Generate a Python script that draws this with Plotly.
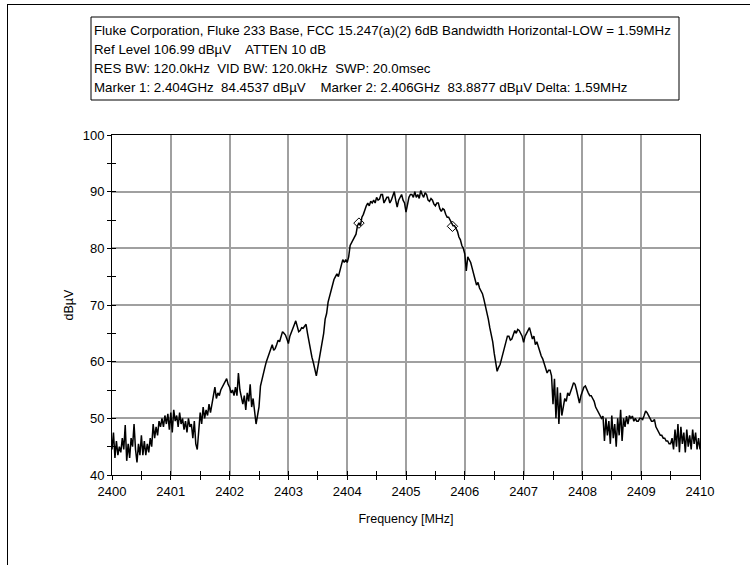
import numpy as np
import plotly.graph_objects as go

# Sweep: 2400-2410 MHz, 0.025 MHz step (401 points)
freq_start = 2400.0
freq_step = 0.025

level_dbuv = [
    # 2400.0 - 2400.475
    44.5, 47.5, 43.0, 46.0, 43.5, 45.0, 44.0, 46.5, 44.5, 48.8, 42.5, 45.5, 43.0, 46.5, 45.0, 49.0, 44.5, 42.2, 45.5, 43.5,
    # 2400.5 - 2400.975
    47.0, 43.5, 46.0, 43.5, 45.5, 44.0, 46.5, 45.0, 49.0, 46.5, 48.5, 47.0, 49.5, 48.5, 50.0, 48.5, 50.5, 49.0, 50.8, 48.0,
    # 2401.0 - 2401.475
    51.0, 47.5, 51.5, 49.5, 50.5, 48.5, 51.0, 49.0, 50.0, 48.0, 49.5, 47.5, 50.0, 48.5, 49.0, 46.5, 49.5, 45.5, 44.5, 48.0,
    # 2401.5 - 2401.975
    51.0, 49.0, 52.0, 50.0, 51.5, 50.5, 52.5, 51.0, 53.0, 54.0, 55.5, 53.5, 54.5, 54.0, 55.0, 55.5, 56.0, 56.5, 57.0, 56.0,
    # 2402.0 - 2402.475
    55.5, 54.5, 55.0, 54.0, 55.5, 54.0, 58.0, 55.0, 53.5, 52.5, 54.0, 51.5, 54.5, 53.0, 56.0, 52.0, 53.5, 51.0, 49.0, 50.5,
    # 2402.5 - 2402.975
    52.0, 55.7, 57.0, 58.0, 59.0, 60.0, 60.8, 61.5, 62.5, 63.0, 62.0, 62.3, 63.0, 63.8, 63.5, 64.5, 65.3, 65.0, 64.7, 64.0,
    # 2403.0 - 2403.475
    63.2, 64.5, 65.3, 66.0, 66.5, 67.2, 66.0, 65.3, 65.5, 66.0, 65.9, 66.3, 66.6, 65.0, 63.5, 62.0, 60.8, 59.8, 58.7, 57.5,
    # 2403.5 - 2403.975
    59.0, 60.5, 62.5, 63.5, 65.0, 67.5, 68.5, 70.5, 71.5, 73.0, 74.0, 74.5, 75.0, 75.5, 75.0, 76.0, 77.0, 78.0, 77.5, 78.0,
    # 2404.0 - 2404.475
    77.5, 78.5, 80.5, 81.0, 81.5, 82.0, 82.5, 84.0, 84.5, 84.0, 85.5, 86.0, 87.0, 87.5, 88.0, 87.5, 88.3, 88.0, 88.5, 88.0,
    # 2404.5 - 2404.975
    89.0, 88.5, 88.7, 89.5, 89.5, 88.0, 88.5, 89.0, 89.0, 88.0, 88.5, 89.5, 90.0, 88.5, 87.3, 88.5, 89.0, 89.5, 88.5, 88.0,
    # 2405.0 - 2405.475
    86.4, 88.0, 89.0, 89.5, 89.5, 89.0, 90.0, 89.0, 89.5, 88.8, 90.2, 89.5, 89.0, 89.8, 89.5, 88.5, 88.3, 88.8, 88.5, 87.8,
    # 2405.5 - 2405.975
    87.5, 88.0, 88.0, 87.0, 86.5, 87.0, 86.8, 86.0, 85.5, 85.5, 85.0, 84.5, 84.0, 84.0, 83.5, 83.0, 82.0, 81.5, 80.5, 80.0,
    # 2406.0 - 2406.475
    79.0, 76.0, 78.5, 78.0, 77.5, 76.5, 75.7, 74.5, 73.5, 74.0, 73.0, 72.5, 72.0, 71.0, 70.0, 68.5, 67.5, 66.0, 65.0, 63.5,
    # 2406.5 - 2406.975
    61.5, 60.0, 58.3, 59.0, 59.5, 60.5, 61.5, 63.0, 64.0, 64.5, 64.5, 63.8, 64.0, 65.0, 65.5, 65.0, 65.7, 65.5, 65.0, 64.5,
    # 2407.0 - 2407.475
    63.4, 64.5, 65.0, 65.5, 66.0, 65.0, 64.0, 64.5, 63.0, 63.5, 62.5, 62.0, 61.0, 60.5, 59.5, 59.0, 58.0, 58.5, 58.5, 57.5,
    # 2407.5 - 2407.975
    52.5, 57.0, 50.0, 55.5, 49.0, 54.5, 50.5, 52.0, 53.5, 53.0, 54.5, 54.0, 55.0, 55.5, 56.3, 56.0, 55.0, 54.0, 52.7, 54.0,
    # 2408.0 - 2408.475
    55.0, 55.5, 55.7, 55.0, 54.5, 54.0, 54.0, 53.5, 53.0, 52.0, 51.5, 51.0, 50.5, 50.0, 50.4, 46.0, 50.0, 47.0, 49.5, 45.5,
    # 2408.5 - 2408.975
    50.5, 46.5, 49.0, 45.0, 50.0, 47.0, 51.5, 46.0, 50.0, 48.5, 50.4, 49.0, 50.5, 50.0, 50.4, 49.5, 50.0, 49.5, 49.5, 50.0,
    # 2409.0 - 2409.475
    50.0, 49.8, 50.5, 51.3, 51.0, 50.4, 50.0, 49.5, 49.5, 49.8, 48.5, 48.0, 47.5, 47.0, 47.0, 46.5, 46.5, 46.0, 46.0, 45.5,
    # 2409.5 - 2409.975
    45.5, 46.5, 44.5, 48.0, 45.0, 49.0, 44.0, 48.5, 45.5, 47.5, 44.0, 48.0, 45.0, 47.0, 44.5, 48.0, 45.5, 47.5, 44.5, 46.5,
    # 2410.0
    44.5,
]

freq_mhz = [round(freq_start + i * freq_step, 3) for i in range(len(level_dbuv))]

# Marker readouts (MHz, dBuV)
marker_freq = [2404.20, 2405.79]
marker_level = [84.4537, 83.8877]

header_lines = [
    "Fluke Corporation, Fluke 233 Base, FCC 15.247(a)(2) 6dB Bandwidth Horizontal-LOW = 1.59MHz",
    "Ref Level 106.99 dBµV    ATTEN 10 dB",
    "RES BW: 120.0kHz  VID BW: 120.0kHz  SWP: 20.0msec",
    "Marker 1: 2.404GHz  84.4537 dBµV    Marker 2: 2.406GHz  83.8877 dBµV Delta: 1.59MHz",
]

x_ticks = list(range(2400, 2411))
y_ticks = list(range(40, 101, 10))

W, H = 750, 565
L, R, T, B = 112, 50, 135, 90
PW, PH = W - L - R, H - T - B


def px(x):
    return (x - L) / PW


def py(y):
    return (H - B - y) / PH


FONT = "Liberation Sans, Arial, sans-serif"

fig = go.Figure()
fig.add_trace(go.Scatter(
    x=freq_mhz, y=level_dbuv, mode="lines",
    line=dict(color="black", width=1.5), hoverinfo="skip", showlegend=False,
))
fig.add_trace(go.Scatter(
    x=marker_freq, y=marker_level, mode="markers",
    marker=dict(symbol="diamond-open", size=8, color="black", line=dict(width=1)),
    showlegend=False,
))
# overlay axes carry the inward half of each tick
fig.add_trace(go.Scatter(x=[2400], y=[40], xaxis="x2", yaxis="y2",
                         mode="markers", marker=dict(opacity=0), showlegend=False))

axis_common = dict(
    showline=True, linecolor="black", linewidth=1, mirror=True,
    showgrid=True, gridcolor="#a0a0a0", gridwidth=2,
    ticks="outside", ticklen=4, tickcolor="black", tickwidth=1,
    zeroline=False, tickfont=dict(family=FONT, size=13, color="black"),
)

fig.update_layout(
    width=W, height=H,
    margin=dict(l=L, r=R, t=T, b=B),
    paper_bgcolor="white", plot_bgcolor="white",
    xaxis=dict(range=[2400, 2410], tickvals=x_ticks,
               title=dict(text="Frequency [MHz]", font=dict(family=FONT, size=12.5, color="black"), standoff=16),
               minor=dict(ticks="outside", ticklen=4, tickcolor="black", dtick=0.5, tick0=2400, showgrid=False),
               **axis_common),
    yaxis=dict(range=[40, 100], tickvals=y_ticks,
               title=dict(text="dBµV", font=dict(family=FONT, size=12.5, color="black"), standoff=6),
               minor=dict(ticks="outside", ticklen=4, tickcolor="black", dtick=5, tick0=40, showgrid=False),
               **axis_common),
    xaxis2=dict(range=[2400, 2410], overlaying="x", anchor="y", side="bottom",
                dtick=0.5, tick0=2400, ticks="inside", ticklen=4, tickcolor="black",
                showticklabels=False, showgrid=False, zeroline=False, showline=False),
    yaxis2=dict(range=[40, 100], overlaying="y", anchor="x", side="left",
                dtick=5, tick0=40, ticks="inside", ticklen=4, tickcolor="black",
                showticklabels=False, showgrid=False, zeroline=False, showline=False),
    showlegend=False,
)

# header box and page frame
fig.add_shape(type="rect", xref="paper", yref="paper",
              x0=px(91), x1=px(679), y0=py(100), y1=py(17),
              line=dict(color="black", width=1), fillcolor="white", layer="above")
fig.add_shape(type="line", xref="paper", yref="paper",
              x0=px(7), x1=px(750), y0=py(4.5), y1=py(4.5), line=dict(color="black", width=1))
fig.add_shape(type="line", xref="paper", yref="paper",
              x0=px(7.5), x1=px(7.5), y0=py(4), y1=py(565), line=dict(color="black", width=1))

for i, line in enumerate(header_lines):
    fig.add_annotation(
        xref="paper", yref="paper", x=px(92), y=py(30 + 19 * i),
        xanchor="left", yanchor="middle", showarrow=False,
        text=line, font=dict(family=FONT, size=13.3, color="black"),
    )

fig.write_html("out.html")
